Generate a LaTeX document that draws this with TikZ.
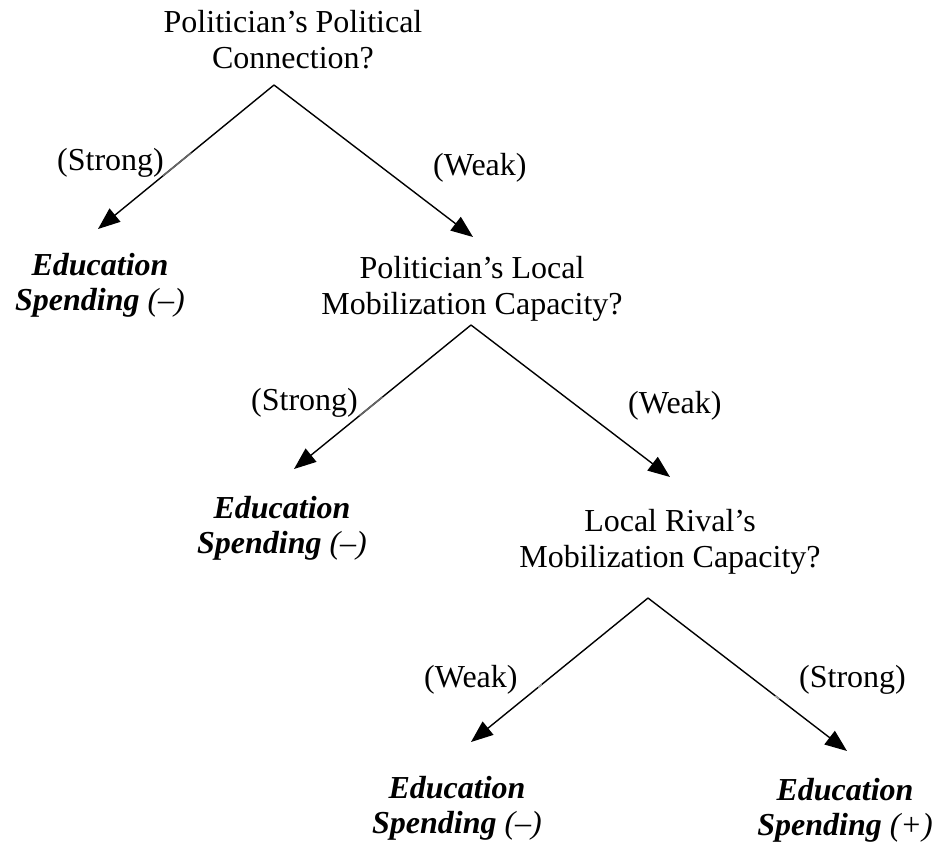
\documentclass[tikz,border=0pt]{standalone}
\usepackage{fontspec}
\setmainfont{Liberation Serif}
\usetikzlibrary{arrows.meta,calc}
\begin{document}
\begin{tikzpicture}[x=1pt,y=-1pt,
  txt/.style={font=\fontsize{32}{36}\selectfont, inner sep=0pt, align=center, anchor=base},
  lbl/.style={font=\fontsize{32}{36}\selectfont, inner sep=0pt, anchor=base west},
  leaf/.style={txt, font=\fontsize{32}{35}\selectfont\bfseries\itshape},
  arr/.style={line width=1.4pt, -{Triangle[length=22pt,width=17pt]}},
  faded/.style={line width=1.6pt, draw=black!60}
]
\useasboundingbox (0,0) rectangle (936,847);
% question nodes (anchor = baseline of last line)
\node[txt] (q1) at (293,68) {Politician’s Political\\Connection?};
\node[txt] (q2) at (472,314) {Politician’s Local\\Mobilization Capacity?};
\node[txt] (q3) at (670,567) {Local Rival’s\\Mobilization Capacity?};
% leaves
\node[leaf] (e1) at (100,310) {Education\\Spending \textmd{(–)}};
\node[leaf] (e2) at (282,553) {Education\\Spending \textmd{(–)}};
\node[leaf] (e3) at (457,833) {Education\\Spending \textmd{(–)}};
\node[leaf] (e4) at (845,835) {Education\\Spending \textmd{(+)}};
% split points and tips
\coordinate (a1) at (274,85);
\coordinate (a2) at (471,325);
\coordinate (a3) at (648,598);
\coordinate (t1l) at (98,229);
\coordinate (t1r) at (473,237);
\coordinate (t2l) at (294,469);
\coordinate (t2r) at (670,477);
\coordinate (t3l) at (471,742);
\coordinate (t3r) at (847,751);
% connectors
\draw[arr] (a1) -- (t1l);
\draw[arr] (a1) -- (t1r);
\draw[arr] (a2) -- (t2l);
\draw[arr] (a2) -- (t2r);
\draw[arr] (a3) -- (t3l);
\draw[arr] (a3) -- (t3r);
% faded pieces of the connectors next to the labels
\draw[faded] ($(a1)!0.47!(t1l)$) -- ($(a1)!0.63!(t1l)$);
\draw[faded] ($(a2)!0.50!(t2l)$) -- ($(a2)!0.63!(t2l)$);
\draw[faded, draw=black!40] ($(a3)!0.60!(t3l)$) -- ($(a3)!0.62!(t3l)$);
\draw[faded, draw=black!40] ($(a3)!0.64!(t3r)$) -- ($(a3)!0.66!(t3r)$);
% branch labels
\node[lbl] (s1) at (57,170) {(Strong)};
\node[lbl] (w1) at (433,175) {(Weak)};
\node[lbl] (s2) at (251,410) {(Strong)};
\node[lbl] (w2) at (628,413) {(Weak)};
\node[lbl] (w3) at (424,687) {(Weak)};
\node[lbl] (s3) at (799,687) {(Strong)};
\end{tikzpicture}
\end{document}
